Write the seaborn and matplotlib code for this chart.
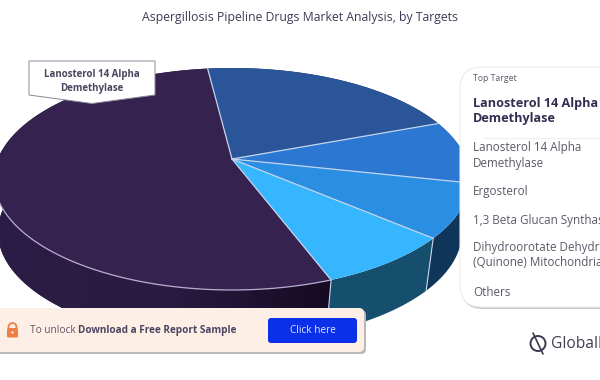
from __future__ import annotations

import matplotlib

matplotlib.use("Agg")

import matplotlib.pyplot as plt
import numpy as np
import seaborn as sns
from matplotlib.colors import LinearSegmentedColormap
from matplotlib.patches import Circle, FancyBboxPatch, Polygon

targets = [
    "Lanosterol 14 Alpha\nDemethylase",
    "Ergosterol",
    "1,3 Beta Glucan Synthase",
    "Dihydroorotate Dehydrogenase\n(Quinone) Mitochondrial",
    "Others",
]
# shares in percent
shares = [55.2, 18.3, 8.9, 8.4, 9.2]
slice_colors = ["#35224f", "#2a5598", "#2b77d2", "#2a8fe2", "#35b6fe"]
wall_colors = ["#2a1b42", "#1d2a55", "#123a62", "#0f3558", "#164f6d"]
title = "Aspergillosis Pipeline Drugs Market Analysis, by Targets"

sns.set_theme(style="white")
plt.rcParams["font.family"] = ["Open Sans", "DejaVu Sans"]

TEXT_DARK = "#352c52"
TEXT_GREY = "#5b5a68"

figure, axis = plt.subplots(figsize=(6, 3.8), dpi=100)
figure.subplots_adjust(0, 0, 1, 1)


def top_edge(theta):
    return 232 + 238 * np.cos(theta), 179 - 111 * np.sin(theta)


def base_edge(theta):
    return 230 + 232 * np.cos(theta), 232 - 110 * np.sin(theta)


# slices run clockwise; the first one ends at the lower front
edges = np.radians(294.6 - np.concatenate([[0], np.cumsum(shares)]) * 3.6)
apex = (232, 159)

# side walls first, the top face then covers what is hidden
for low, high, color in zip(edges[1:], edges[:-1], wall_colors):
    theta = np.linspace(low, high, 200)
    tx, ty = top_edge(theta)
    bx, by = base_edge(theta)
    wall = Polygon(
        np.column_stack([np.r_[tx, bx[::-1]], np.r_[ty, by[::-1]]]),
        facecolor=color,
        edgecolor="none",
        zorder=1,
    )
    axis.add_patch(wall)
    if color == wall_colors[0]:
        shade = LinearSegmentedColormap.from_list(
            "wall", ["#2c1d46", "#2a1b42", "#150a22"]
        )
        image = axis.imshow(
            np.linspace(0, 1, 256).reshape(1, -1),
            extent=(0, 332, 380, 150),
            cmap=shade,
            aspect="auto",
            zorder=1.5,
        )
        image.set_clip_path(wall)

axis.set_xlim(0, 600)
axis.set_ylim(380, 0)
axis.axis("off")

for low, high, color in zip(edges[1:], edges[:-1], slice_colors):
    theta = np.linspace(low, high, 200)
    tx, ty = top_edge(theta)
    axis.add_patch(
        Polygon(
            np.column_stack([np.r_[apex[0], tx], np.r_[apex[1], ty]]),
            facecolor=color,
            edgecolor="none",
            zorder=2,
        )
    )

for edge in edges[:-1]:
    tx, ty = top_edge(edge)
    axis.plot([apex[0], tx], [apex[1], ty], color="#c4d4ee", lw=0.9, zorder=3)
    if np.sin(edge) < 0 and tx > 232:
        bx, by = base_edge(edge)
        axis.plot([tx, bx], [ty, by], color="#c4d4ee", lw=0.8, zorder=3)

# pale rim along the front of the top face
theta = np.linspace(edges[1], edges[0], 300)
rim = theta[np.sin(theta) < -0.1]
axis.plot(*top_edge(rim), color="#b9aed0", lw=0.9, zorder=3)
theta = np.linspace(edges[-1], edges[0] - 2 * np.pi, 100)
axis.plot(*top_edge(theta), color="#cfe6fb", lw=0.7, zorder=3)

# callout over the largest slice
axis.add_patch(
    Polygon(
        [(29, 61), (155, 61), (155, 95), (92, 103.5), (29, 95)],
        facecolor="white",
        edgecolor="#8a8798",
        lw=0.7,
        zorder=4,
    )
)
axis.text(92, 81.5, targets[0], ha="center", va="center", fontsize=7.0,
          fontweight="bold", color="#4a4560", linespacing=1.25, zorder=5)

axis.text(300, 17, title, ha="center", va="center", fontsize=8.8, color="#3f3b55")

# legend card, runs off the right side
axis.add_patch(FancyBboxPatch((461, 69), 200, 240, boxstyle="round,pad=0,rounding_size=22",
                              facecolor="#c9c9c9", edgecolor="none", zorder=5))
axis.add_patch(FancyBboxPatch((460, 67), 200, 240, boxstyle="round,pad=0,rounding_size=22",
                              facecolor="white", edgecolor="#ececec", lw=0.8, zorder=6))
axis.text(473, 78.5, "Top Target", va="center", fontsize=6.3, color=TEXT_GREY, zorder=7)
axis.text(473, 111, targets[0], va="center", fontsize=9.1, fontweight="bold",
          color=TEXT_DARK, linespacing=1.12, zorder=7)
axis.plot([484, 600], [137.5, 137.5], color="#eeeeee", lw=0.8, zorder=7)
axis.text(473, 155.5, targets[0], va="center", fontsize=8.4, color=TEXT_GREY,
          linespacing=1.2, zorder=7)
axis.text(473, 191.5, targets[1], va="center", fontsize=8.4, color=TEXT_GREY, zorder=7)
axis.text(473, 220.5, targets[2], va="center", fontsize=8.4, color=TEXT_GREY, zorder=7)
axis.text(473, 255.5, targets[3], va="center", fontsize=8.4, color=TEXT_GREY,
          linespacing=1.2, zorder=7)
axis.text(473, 292, targets[4], va="center", fontsize=8.4, color=TEXT_GREY, zorder=7)

# unlock banner
axis.add_patch(FancyBboxPatch((-20, 310), 386, 44, boxstyle="round,pad=0,rounding_size=5",
                              facecolor="#b9b9b9", edgecolor="none", zorder=8))
axis.add_patch(FancyBboxPatch((-20, 308), 384, 44, boxstyle="round,pad=0,rounding_size=5",
                              facecolor="#fdeee6", edgecolor="none", zorder=9))
axis.add_patch(FancyBboxPatch((268, 318), 89, 25, boxstyle="round,pad=0,rounding_size=3",
                              facecolor="#0a30ea", edgecolor="none", zorder=10))
axis.text(312.5, 330.5, "Click here", ha="center", va="center", fontsize=7.2,
          color="#dfe6ff", zorder=11)
axis.text(30, 330.5, "To unlock", va="center", fontsize=7.3, color=TEXT_GREY, zorder=10)
axis.text(78.5, 330.5, "Download a Free Report Sample", va="center", fontsize=7.2,
          fontweight="bold", color="#4a4560", zorder=10)

# lock icon
axis.add_patch(Circle((12.5, 327), 4, facecolor="none", edgecolor="#ee7f45", lw=1.3, zorder=10))
axis.add_patch(FancyBboxPatch((7, 328), 11, 9.5, boxstyle="round,pad=0,rounding_size=1.5",
                              facecolor="#ee7f45", edgecolor="none", zorder=11))
axis.add_patch(Circle((12.5, 332.5), 1.2, facecolor="#fdeee6", edgecolor="none", zorder=12))

# logo
axis.add_patch(Circle((538, 343.5), 7.5, facecolor="none", edgecolor="#3a3a4e", lw=1.4, zorder=7))
axis.plot([533, 543], [333, 354], color="#3a3a4e", lw=1.2, zorder=7)
axis.text(551, 343.5, "GlobalData", va="center", fontsize=11.2, color="#3f3f52", zorder=7)

figure.savefig("out.png", dpi=100)
